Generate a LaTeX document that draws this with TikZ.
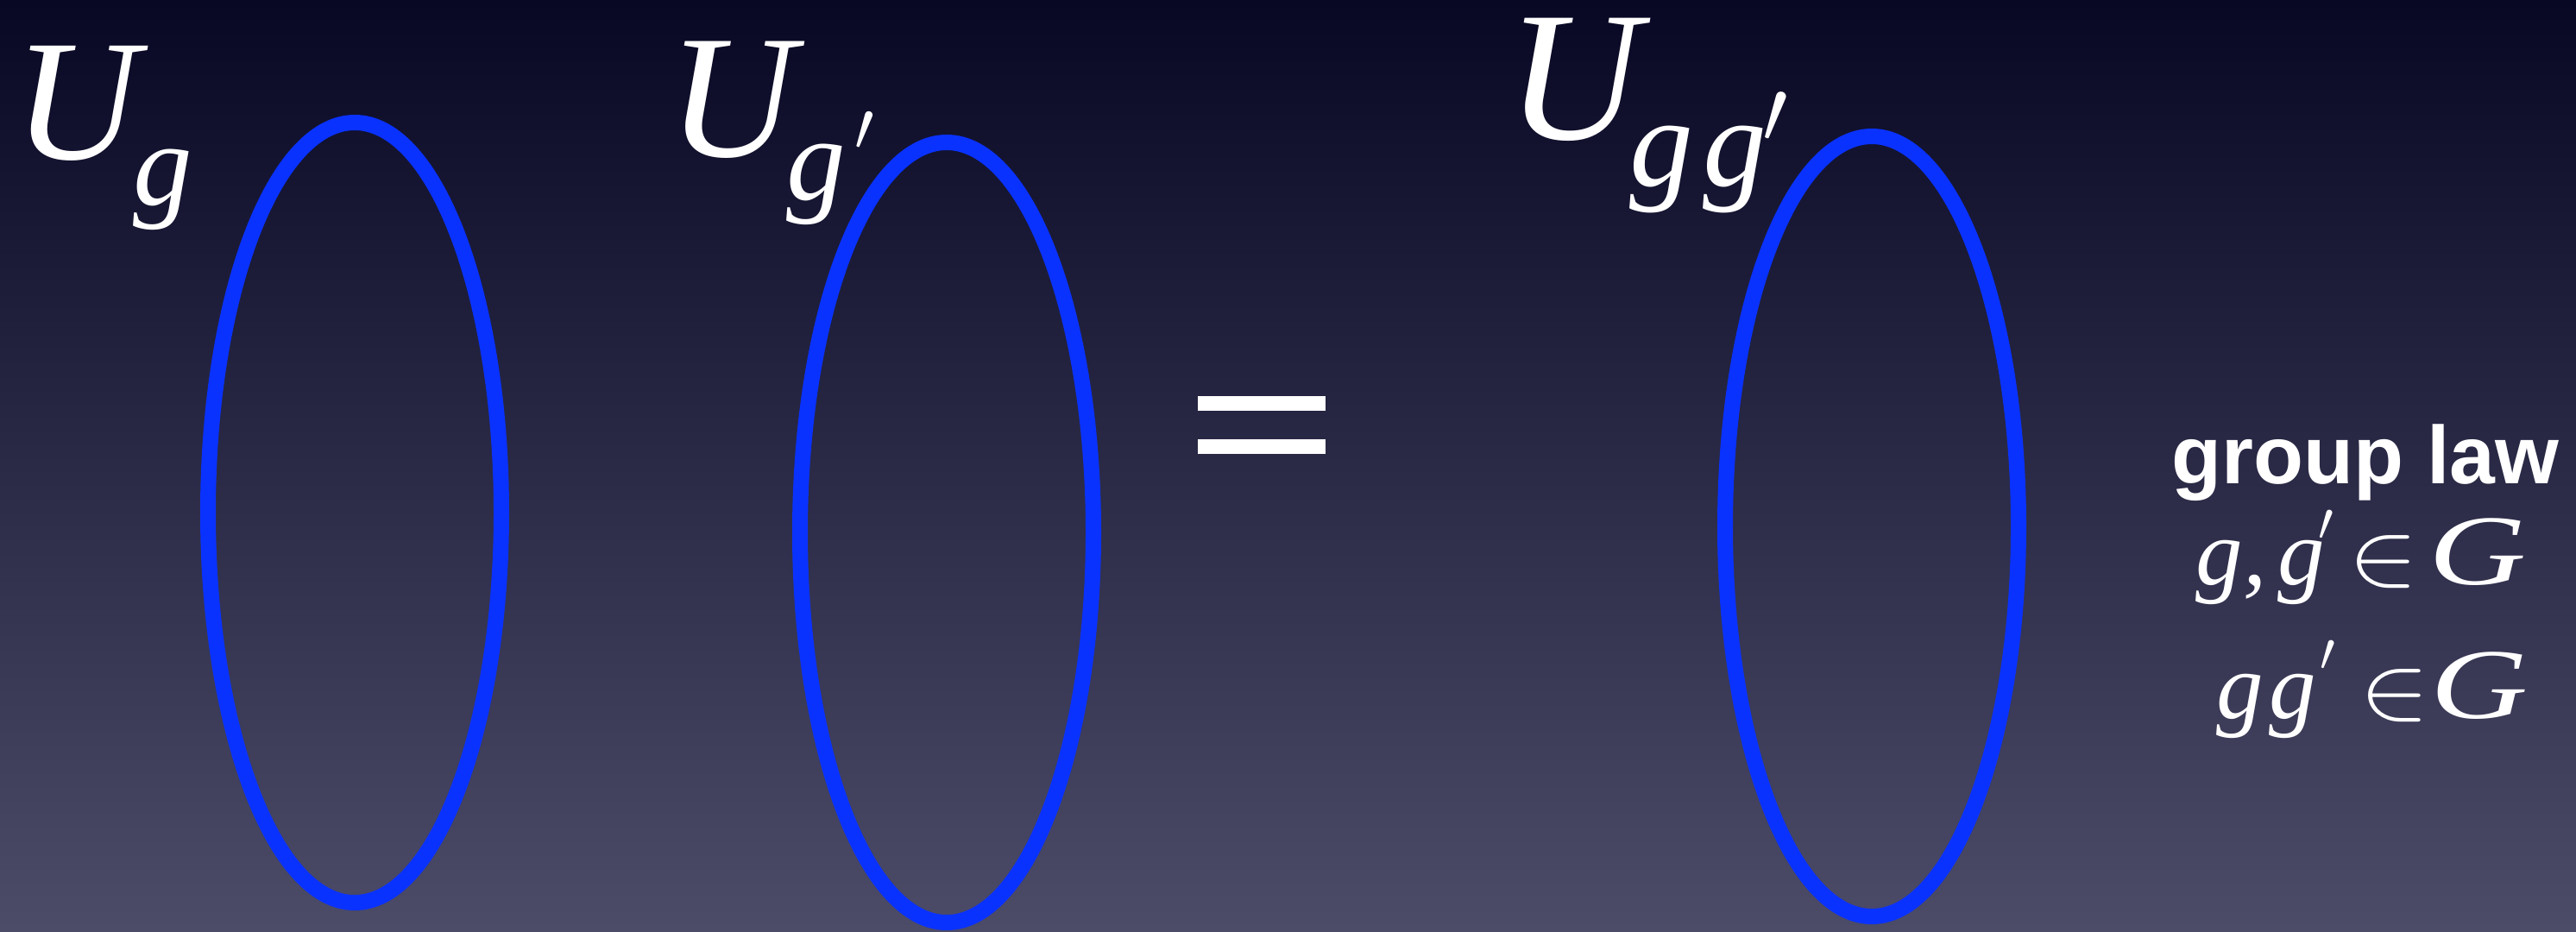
\RequirePackage{fix-cm}
\documentclass[tikz,border=0pt]{standalone}
\usepackage{fontspec}
\setmainfont{Liberation Serif}
\newfontfamily\lawfont{Liberation Sans}
\definecolor{bgtop}{RGB}{8,8,36}
\definecolor{bgmid}{RGB}{36,35,72}
\definecolor{bgbot}{RGB}{76,75,104}
\definecolor{ringblue}{RGB}{10,50,255}
\tikzset{
  ring/.style={draw=ringblue,line width=0.18cm},
  biglabel/.style={text=white,inner sep=0pt,anchor=base west,text height=1.6cm,text depth=0.8cm,font=\fontsize{57}{57}\selectfont\itshape},
  lawhead/.style={text=white,inner sep=0pt,anchor=base,font=\lawfont\bfseries\fontsize{27}{27}\selectfont},
  lawtext/.style={text=white,inner sep=0pt,anchor=base west,font=\fontsize{31}{31}\selectfont\itshape},
  bar/.style={fill=white}
}
\newcommand{\subg}[1]{\raisebox{#1}{\fontsize{39}{39}\selectfont g}}
\newcommand{\pr}[2]{\raisebox{#2}{\fontsize{#1}{#1}\selectfont$\prime$}}
\newcommand{\elem}{\scalebox{1.15}[1]{\fontsize{30}{30}\selectfont$\in$}}
\newcommand{\grp}{\scalebox{1.35}[1]{\fontsize{33}{33}\selectfont G}}
\begin{document}
\begin{tikzpicture}[x=1cm,y=1cm]
\useasboundingbox (0,0) rectangle (29.85,10.79);
\shade[top color=bgtop,middle color=bgmid,bottom color=bgbot] (0,0) rectangle (29.85,10.79);
% Ellipse 1: U_g
\draw[ring] (4.11,4.85) ellipse (1.70 and 4.52);
\node[biglabel] (ug) at (0.16,8.94) {U\kern-0.07cm\subg{-0.53cm}};
% Ellipse 2: U_g'
\draw[ring] (10.97,4.62) ellipse (1.70 and 4.52);
\node[biglabel,font=\fontsize{58}{58}\selectfont\itshape] (ugp) at (7.74,8.97)
  {U\kern-0.10cm\subg{-0.50cm}\kern0.10cm\pr{23}{0.07cm}};
% equals sign
\fill[bar] (13.88,6.03) rectangle (15.36,6.20);
\fill[bar] (13.88,5.53) rectangle (15.36,5.70);
% Ellipse 3: U_gg'
\draw[ring] (21.69,4.69) ellipse (1.70 and 4.52);
\node[biglabel,font=\fontsize{61}{61}\selectfont\itshape] (ugg) at (17.46,9.17)
  {U\kern-0.13cm\raisebox{-0.54cm}{\fontsize{42}{42}\selectfont g\kern0.11cm g}\kern-0.05cm\pr{30}{-0.04cm}};
% group law
\node[lawhead] (law) at (27.41,5.19) {group law};
\node[lawtext] (memb) at (25.44,4.02)
  {g,\kern0.13cm g\kern-0.07cm\pr{18}{0.51cm}\kern0.17cm\elem\kern0.12cm\grp};
\node[lawtext] (prod) at (25.68,2.47)
  {g\kern0.06cm g\kern0.05cm\pr{18}{0.55cm}\kern0.28cm\elem\kern0.02cm\grp};
\end{tikzpicture}
\end{document}
